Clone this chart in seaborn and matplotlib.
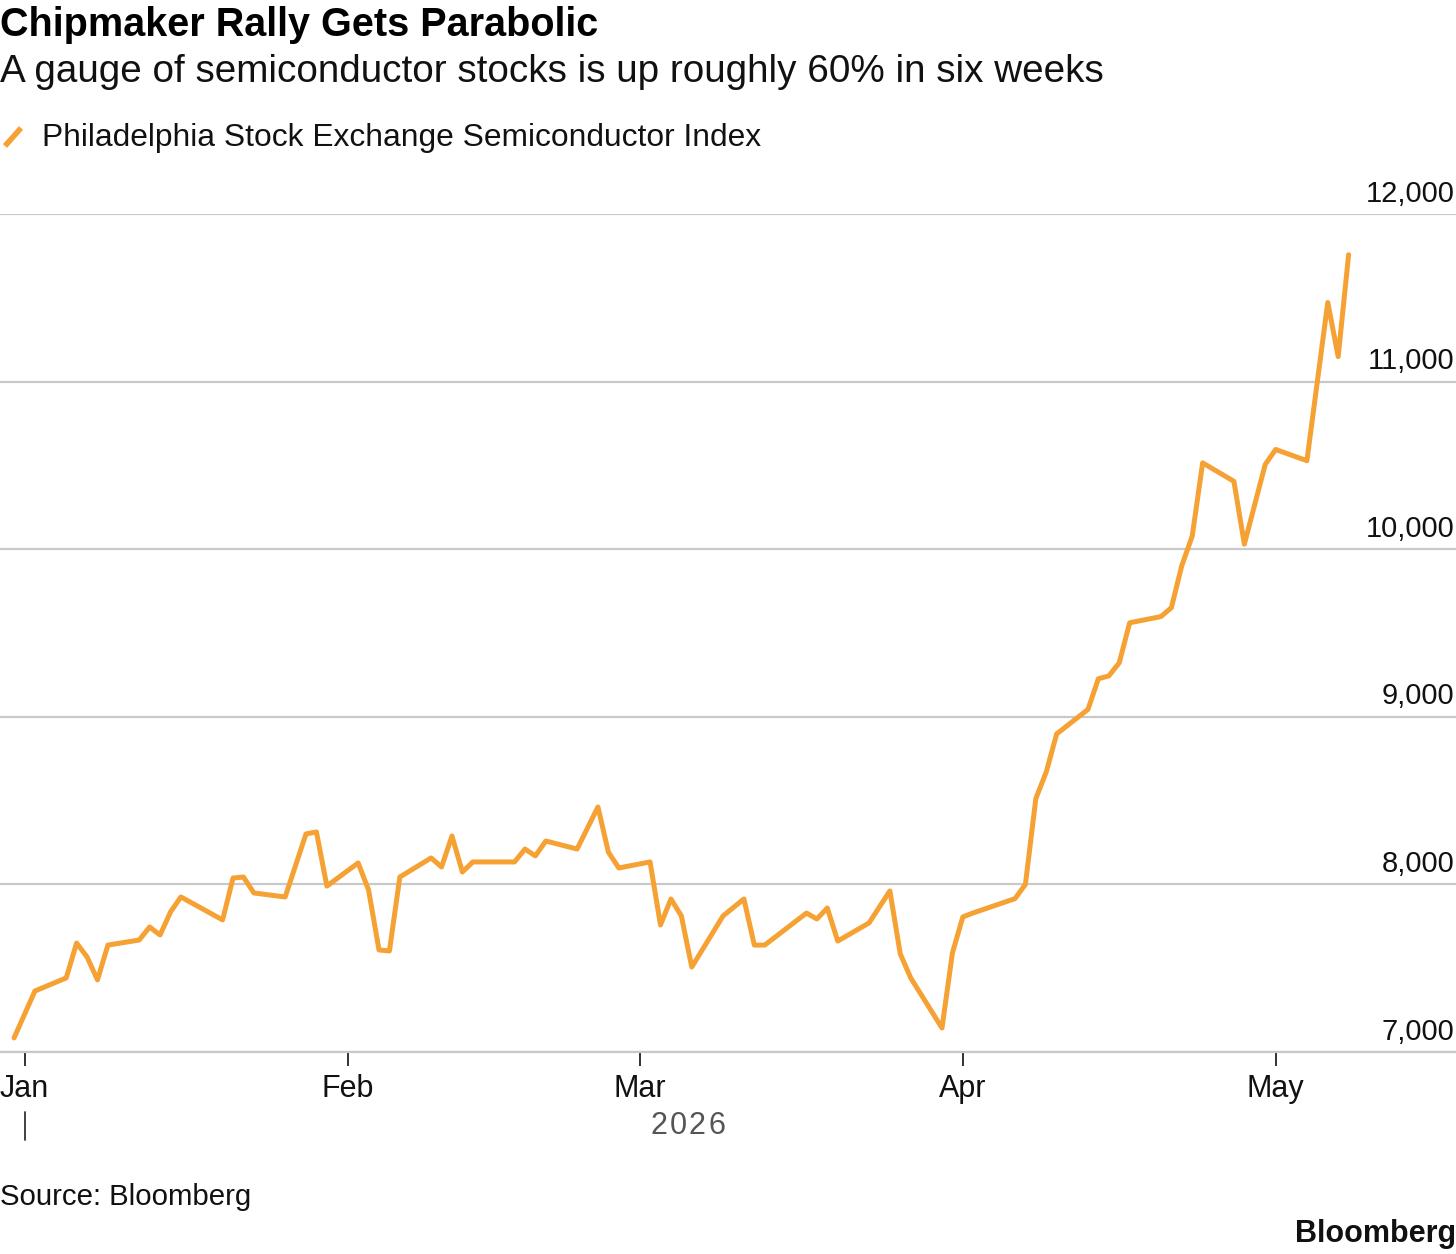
import pandas as pd
import numpy as np
import matplotlib
matplotlib.use('Agg')
import matplotlib.pyplot as plt
import matplotlib.dates as mdates
import seaborn as sns

# data (daily closes, index points)
dates = [
    "2025-12-31", "2026-01-02", "2026-01-05", "2026-01-06", "2026-01-07",
    "2026-01-08", "2026-01-09", "2026-01-12", "2026-01-13", "2026-01-14",
    "2026-01-15", "2026-01-16", "2026-01-20", "2026-01-21", "2026-01-22",
    "2026-01-23", "2026-01-26", "2026-01-28", "2026-01-29", "2026-01-30",
    "2026-02-02", "2026-02-03", "2026-02-04", "2026-02-05", "2026-02-06",
    "2026-02-09", "2026-02-10", "2026-02-11", "2026-02-12", "2026-02-13",
    "2026-02-17", "2026-02-18", "2026-02-19", "2026-02-20", "2026-02-23",
    "2026-02-25", "2026-02-26", "2026-02-27", "2026-03-02", "2026-03-03",
    "2026-03-04", "2026-03-05", "2026-03-06", "2026-03-09", "2026-03-11",
    "2026-03-12", "2026-03-13", "2026-03-17", "2026-03-18", "2026-03-19",
    "2026-03-20", "2026-03-23", "2026-03-25", "2026-03-26", "2026-03-27",
    "2026-03-30", "2026-03-31", "2026-04-01", "2026-04-02", "2026-04-06",
    "2026-04-07", "2026-04-08", "2026-04-09", "2026-04-10", "2026-04-13",
    "2026-04-14", "2026-04-15", "2026-04-16", "2026-04-17", "2026-04-20",
    "2026-04-21", "2026-04-22", "2026-04-23", "2026-04-24", "2026-04-27",
    "2026-04-28", "2026-04-30", "2026-05-01", "2026-05-04", "2026-05-06",
    "2026-05-07", "2026-05-08",
]
sox = [
    7084, 7364, 7442, 7650, 7567,
    7430, 7638, 7668, 7746, 7698,
    7835, 7925, 7788, 8038, 8044,
    7949, 7925, 8301, 8313, 7990,
    8128, 7967, 7609, 7603, 8044,
    8158, 8104, 8289, 8074, 8134,
    8134, 8211, 8170, 8259, 8211,
    8462, 8193, 8098, 8134, 7758,
    7913, 7812, 7507, 7812, 7913,
    7638, 7638, 7829, 7794, 7859,
    7662, 7770, 7961, 7585, 7442,
    7143, 7591, 7806, 7830, 7915,
    8000, 8512, 8671, 8898, 9044,
    9227, 9244, 9322, 9561, 9598,
    9651, 9902, 10078, 10515, 10405,
    10030, 10505, 10595, 10528, 11472,
    11149, 11757,
]
y_ticks = [7000, 8000, 9000, 10000, 11000, 12000]
y_labels = ["7,000", "8,000", "9,000", "10,000", "11,000", "12,000"]
year = 2026

df = pd.DataFrame({'date': pd.to_datetime(dates), 'value': sox})

LINE = '#f6a133'
GRID = '#c9c9c9'

sns.set_theme(style='white')
plt.rcParams['font.family'] = ['Liberation Sans', 'DejaVu Sans']

fig = plt.figure(figsize=(14.56, 12.54), dpi=100)
ax = fig.add_axes([0, 1 - 1052 / 1254, 1, (1052 - 214) / 1254])

sns.lineplot(data=df, x='date', y='value', color=LINE, linewidth=3.6,
             ax=ax, legend=False, solid_joinstyle='round',
             solid_capstyle='round', clip_on=False)

jan1 = pd.Timestamp(f'{year}-01-01')
ax.set_xlim(jan1 - pd.Timedelta(days=2.35), jan1 + pd.Timedelta(days=137.3))
ax.set_ylim(y_ticks[0], y_ticks[-1])

ax.xaxis.set_major_locator(mdates.MonthLocator())
ax.xaxis.set_major_formatter(mdates.DateFormatter('%b'))
ax.tick_params(axis='x', bottom=True, direction='out', length=10, width=1.3,
               color='#222222', pad=6, labelsize=22, labelcolor='#111111')

ax.set_yticks(y_ticks)
ax.set_yticklabels([])
ax.tick_params(axis='y', left=False, right=False)
ax.grid(axis='y', color=GRID, linewidth=1.6)
ax.set_axisbelow(True)
for s in ['top', 'left', 'right']:
    ax.spines[s].set_visible(False)
ax.spines['bottom'].set_color(GRID)
ax.spines['bottom'].set_linewidth(1.6)
ax.set_xlabel('')
ax.set_ylabel('')

# y labels sit above their gridlines, right aligned
for v, lab in zip(y_ticks, y_labels):
    ax.annotate(lab, xy=(1, v), xycoords=('axes fraction', 'data'),
                xytext=(-1, 9), textcoords='offset points', ha='right',
                va='baseline', fontsize=21, color='#111111',
                annotation_clip=False)

# year label + separator under Jan
ax.plot([jan1, jan1], [-0.072, -0.105], transform=ax.get_xaxis_transform(),
        color='#333333', lw=1.3, clip_on=False)
yr = str(year)
for i, ch in enumerate(yr):
    fig.text((650 + 19.5 * i) / 1456, 1 - 1134 / 1254, ch, ha='left',
             va='baseline', fontsize=22, color='#555555')

# header
fig.text(0.0, 1 - 36 / 1254, 'Chipmaker Rally Gets Parabolic', ha='left',
         va='baseline', fontsize=28.5, fontweight='bold', color='#000000')
fig.text(0.0, 1 - 82 / 1254,
         'A gauge of semiconductor stocks is up roughly 60% in six weeks',
         ha='left', va='baseline', fontsize=27.8, color='#111111')

# legend
fig.add_artist(plt.Line2D([5 / 1456, 21 / 1456], [1 - 146 / 1254, 1 - 128 / 1254],
                          color=LINE, lw=4, solid_capstyle='butt',
                          transform=fig.transFigure))
fig.text(42 / 1456, 1 - 146 / 1254,
         'Philadelphia Stock Exchange Semiconductor Index',
         ha='left', va='baseline', fontsize=22.9, color='#111111')

# footer
fig.text(0.0, 1 - 1205 / 1254, 'Source: Bloomberg', ha='left', va='baseline',
         fontsize=21.2, color='#111111')
fig.text(1.0, 1 - 1242 / 1254, 'Bloomberg', ha='right', va='baseline',
         fontsize=22, fontweight='bold', color='#111111')

fig.savefig('out.png', dpi=100)
